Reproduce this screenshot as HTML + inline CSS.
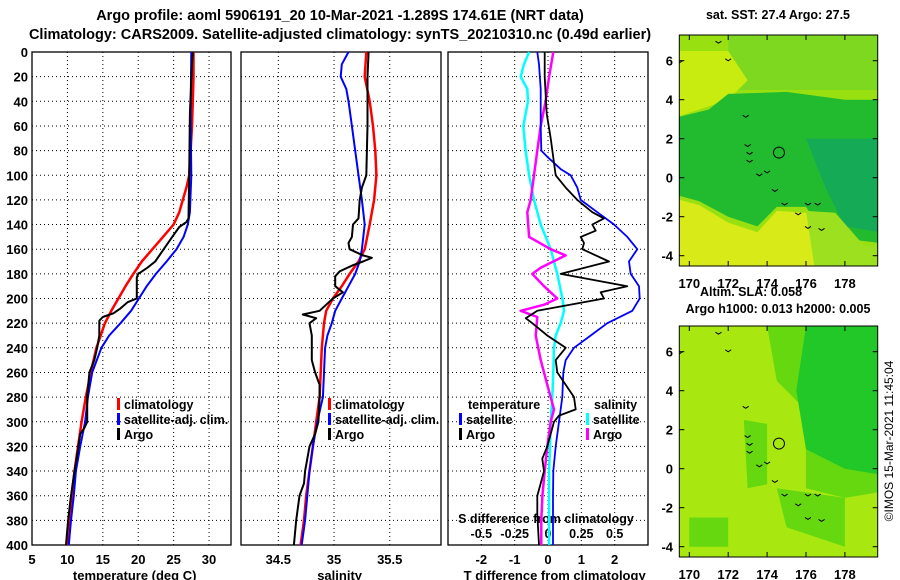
<!DOCTYPE html>
<html><head><meta charset="utf-8"><style>
body{margin:0;background:#fff}
svg{display:block;font-family:"Liberation Sans",sans-serif;font-weight:bold}
</style></head><body>
<svg id="c" width="900" height="580" viewBox="0 0 900 580">
<text x="340" y="20" text-anchor="middle" font-size="14.5">Argo profile: aoml 5906191_20 10-Mar-2021 -1.289S 174.61E (NRT data)</text>
<text x="340" y="39" text-anchor="middle" font-size="14.5">Climatology: CARS2009. Satellite-adjusted climatology: synTS_20210310.nc (0.49d earlier)</text>
<g id="maps"></g>
<g id="plots"></g>
<text transform="translate(893,441) rotate(-90)" text-anchor="middle" font-size="12" font-weight="normal">©IMOS 15-Mar-2021 11:45:04</text>
</svg>
<script>
const NS="http://www.w3.org/2000/svg";
const svg=document.getElementById('c');
function mk(tag,attrs,parent,txt){const e=document.createElementNS(NS,tag);for(const k in attrs)e.setAttribute(k,attrs[k]);if(txt!==undefined)e.textContent=txt;(parent||svg).appendChild(e);return e;}

// ---- data ----
const depthTicks=[0,20,40,60,80,100,120,140,160,180,200,220,240,260,280,300,320,340,360,380,400];
const tempTicks=[5,10,15,20,25,30];
const salTicks=[34.5,35,35.5];
const dTTicks=[-2,-1,0,1,2];
const dSTicks=[-0.5,-0.25,0,0.25,0.5];
const dSTickLabels=["-0.5","-0.25","0","0.25","0.5"];

const tClimDepth=[0,20,40,60,80,100,110,120,130,140,150,160,170,180,190,200,210,220,230,240,260,280,300,320,340,360,380,400];
const tClimVal=[27.8,27.8,27.7,27.6,27.4,27.2,26.8,26.3,25.8,25,23.5,22,20.5,19.3,18.2,17.2,16.2,15.3,14.7,14.1,13.3,12.6,12.0,11.5,11.0,10.6,10.3,10.0];
const tSatDepth=[0,50,100,130,140,150,160,170,180,190,200,210,220,230,240,260,280,300,320,340,360,380,400];
const tSatVal=[27.5,27.4,27.5,27.3,27.0,26.4,25.4,24,22.5,21.2,20.1,19,17.5,15.9,14.8,13.5,12.9,12.5,11.8,11.2,10.9,10.5,10.2];
const tArgoDepth=[0,10,50,100,135,138,142,150,160,170,175,180,183,200,203,208,212,215,218,230,240,250,260,280,300,305,310,330,340,360,380,400];
const tArgoVal=[27.7,27.6,27.3,27.2,27.1,26.8,25.8,24.8,23.6,22.4,21.3,20,19.8,19.8,18.5,17.5,16.5,15,14.5,14.5,14.2,13.8,13.1,12.8,12.8,12.4,11.8,11.3,11.0,10.5,10.1,9.8];

const sClimDepth=[0,20,40,60,80,100,120,140,160,170,180,190,200,210,220,240,260,280,300,320,340,360,380,400];
const sClimVal=[35.29,35.275,35.32,35.35,35.37,35.38,35.36,35.32,35.275,35.22,35.14,35.07,34.99,34.93,34.91,34.89,34.88,34.87,34.84,34.81,34.78,34.75,34.73,34.70];
const sSatDepth=[0,10,20,30,40,60,80,100,120,140,160,170,180,190,200,210,220,230,240,260,280,300,320,340,360,380,400];
const sSatVal=[35.13,35.07,35.06,35.11,35.13,35.16,35.19,35.22,35.25,35.275,35.25,35.23,35.19,35.13,35.07,35.01,34.98,34.94,34.92,34.91,34.90,34.85,34.81,34.78,34.76,34.74,34.71];
const sArgoDepth=[0,20,60,100,110,120,135,140,150,155,160,165,167,170,173,178,182,190,195,200,205,210,213,216,220,230,250,260,270,280,300,310,320,340,350,360,380,400];
const sArgoVal=[35.31,35.30,35.30,35.29,35.25,35.23,35.22,35.17,35.16,35.13,35.14,35.26,35.34,35.26,35.17,35.05,35.01,35.01,35.08,34.99,34.93,34.87,34.72,34.84,34.78,34.80,34.80,34.83,34.87,34.87,34.86,34.83,34.78,34.74,34.73,34.69,34.66,34.64];

const dTSatDepth=[0,10,30,60,80,85,95,100,110,120,130,140,150,160,170,180,190,200,210,220,230,240,250,260,280,300,320,340,360,380,400];
const dTSatVal=[-0.32,-0.27,-0.22,-0.22,-0.2,-0.02,0.38,0.68,0.88,0.98,1.48,1.98,2.38,2.68,2.43,2.48,2.73,2.75,2.53,1.78,1.28,0.78,0.53,0.46,0.43,0.33,0.23,0.16,0.15,0.15,0.15];
const dTArgoDepth=[0,20,50,70,90,100,110,120,130,135,140,145,150,155,160,170,180,190,195,200,210,216,220,230,240,250,260,270,280,290,295,300,320,330,340,350,360,375,400];
const dTArgoVal=[-0.1,-0.1,-0.04,0.08,0.18,0.23,0.53,0.88,1.33,1.68,1.33,1.43,0.98,1.08,1.03,1.83,0.38,2.38,1.58,1.68,-0.32,-0.67,-0.47,-0.02,0.53,0.23,0.28,0.53,0.78,0.83,0.33,0.18,-0.02,-0.17,-0.12,-0.22,-0.32,-0.32,-0.27];
const dSSatDepth=[0,10,20,30,40,60,80,100,120,140,160,180,200,210,220,230,240,260,280,300,320,340,360,400];
const dSSatVal=[-0.142,-0.18,-0.205,-0.155,-0.15,-0.185,-0.168,-0.142,-0.105,-0.055,0.02,0.07,0.108,0.12,0.095,0.058,0.045,0.04,0.032,0.02,0.015,0.008,0.008,0.008];
const dSArgoDepth=[0,20,40,60,80,100,120,130,150,160,165,175,180,190,200,205,210,215,230,250,270,290,300,320,340,360,380,400];
const dSArgoVal=[0.04,0.008,-0.018,-0.055,-0.08,-0.105,-0.13,-0.155,-0.142,0.02,0.132,-0.055,-0.118,-0.03,0.07,-0.03,-0.205,-0.08,-0.092,-0.055,-0.005,0.045,0.02,-0.005,-0.025,-0.042,-0.05,-0.05];

// ---- axes ----
const Y0=52,Y1=545;
const yD=d=>Y0+(d/400)*(Y1-Y0);
const panels=[
 {x0:32,x1:231,min:5,max:33.1},
 {x0:241,x1:441,min:34.165,max:35.96},
 {x0:448,x1:648,min:-3,max:3}
];
const xs=i=>v=>panels[i].x0+(v-panels[i].min)/(panels[i].max-panels[i].min)*(panels[i].x1-panels[i].x0);
const xT=xs(0),xS=xs(1),xDT=xs(2),xDS=v=>xDT(v*4);

const P=document.getElementById('plots');
panels.forEach((p,i)=>{
  const g=mk('g',{},P);
  
  
  depthTicks.forEach(d=>{
    const l=mk('line',{x1:p.x0,x2:p.x1,y1:yD(d),y2:yD(d),stroke:'#000','stroke-width':1,'stroke-dasharray':'1,3'},g);
    
    
  });
  const vt=i===0?tempTicks:i===1?salTicks:dTTicks;
  const f=i===0?xT:i===1?xS:xDT;
  vt.forEach(v=>{
    const l=mk('line',{x1:f(v),x2:f(v),y1:Y0,y2:Y1,stroke:'#000','stroke-width':1,'stroke-dasharray':'1,3'},g);
    
    
    const t=mk('text',{x:f(v),y:564,'text-anchor':'middle','font-size':13},g,String(v));
    
    
  });
  const r=mk('rect',{x:p.x0,y:Y0,width:p.x1-p.x0,height:Y1-Y0,fill:'none',stroke:'#000','stroke-width':1.3},g);
  
  
});
depthTicks.forEach(d=>{
  const t=mk('text',{x:28,y:yD(d)+5,'text-anchor':'end','font-size':13},P,String(d));
  
  
});
[[xT(19.5),'temperature (deg C)','temp-axis-title'],[xS(35.05),'salinity','salinity-axis-title'],[xDT(0.2),'T difference from climatology','t-diff-axis-title']].forEach(a=>{
  const t=mk('text',{x:a[0],y:580,'text-anchor':'middle','font-size':13},P,a[1]);
  
  
});
let st=mk('text',{x:546,y:523,'text-anchor':'middle','font-size':12.5},P,'S difference from climatology');


dSTicks.forEach((v,i)=>{
  const t=mk('text',{x:xDS(v),y:538,'text-anchor':'middle','font-size':12.5},P,dSTickLabels[i]);
  
  
});

function line(depths,vals,fx,color,w,name){
  const pts=depths.map((d,i)=>fx(vals[i]).toFixed(1)+','+yD(d).toFixed(1)).join(' ');
  const l=mk('polyline',{points:pts,fill:'none',stroke:color,'stroke-width':w,'stroke-linejoin':'round'},P);
  
  
}
line(tClimDepth,tClimVal,xT,'#f00',2.5,'temp-climatology-line');
line(tSatDepth,tSatVal,xT,'#00f',2,'temp-satellite-line');
line(tArgoDepth,tArgoVal,xT,'#000',2,'temp-argo-line');
line(sClimDepth,sClimVal,xS,'#f00',2.5,'salinity-climatology-line');
line(sSatDepth,sSatVal,xS,'#00f',2,'salinity-satellite-line');
line(sArgoDepth,sArgoVal,xS,'#000',2,'salinity-argo-line');
line(dSSatDepth,dSSatVal,xDS,'#0ff',2.5,'s-diff-satellite-line');
line(dSArgoDepth,dSArgoVal,xDS,'#f0f',2.5,'s-diff-argo-line');
line(dTSatDepth,dTSatVal,xDT,'#00f',1.8,'t-diff-satellite-line');
line(dTArgoDepth,dTArgoVal,xDT,'#000',1.8,'t-diff-argo-line');

function legend(x,y,color,label,name){
  const g=mk('g',{},P);
  
  
  if(color) mk('rect',{x:x,y:y-11,width:3,height:12,fill:color},g);
  mk('text',{x:x+7,y:y,'font-size':12.5},g,label);
}
legend(117,409,'#f00','climatology','legend-climatology');
legend(117,424,'#00f','satellite-adj. clim.','legend-satellite-adj');
legend(117,439,'#000','Argo','legend-argo');
legend(328,409,'#f00','climatology','legend-climatology-2');
legend(328,424,'#00f','satellite-adj. clim.','legend-satellite-adj-2');
legend(328,439,'#000','Argo','legend-argo-2');
legend(461,409,null,'temperature','legend-temperature-header');
legend(459,424,'#00f','satellite','legend-t-satellite');
legend(459,439,'#000','Argo','legend-t-argo');
legend(587,409,null,'salinity','legend-salinity-header');
legend(586,424,'#0ff','satellite','legend-s-satellite');
legend(586,439,'#f0f','Argo','legend-s-argo');

// ---- maps ----
const M=document.getElementById('maps');
const lonTicks=[170,172,174,176,178];
const latTicks=[6,4,2,0,-2,-4];
const MX0=679.3,MX1=877.7;
const mx=lon=>689.3+(lon-170)*19.45;
function drawMap(top,name,shapes){
  const my=lat=>top+25.7+(6-lat)*19.5;
  const g=mk('g',{},M);
  
  
  const cid='clip'+top;
  const cp=mk('clipPath',{id:cid},g);
  mk('rect',{x:MX0,y:top,width:MX1-MX0,height:231},cp);
  const inner=mk('g',{'clip-path':'url(#'+cid+')'},g);
  shapes.forEach(s=>{
    const pts=s.p.map(q=>mx(q[0]).toFixed(1)+','+my(q[1]).toFixed(1)).join(' ');
    mk('polygon',{points:pts,fill:s.c},inner);
  });
  const isl=[[172.9,3.2],[173,1.7],[173.1,1.3],[173.1,0.9],[173.6,0.2],[174,0.35],[174.4,-0.6],[174.9,-1.3],[175.6,-1.8],[176.1,-1.3],[176.6,-1.3],[176.1,-2.5],[176.8,-2.6],[171.5,7.0],[172,6.1],[169.5,6.0]];
  isl.forEach(q=>mk('path',{d:'M'+(mx(q[0])-3)+','+my(q[1])+' l3,2 l3,-2',fill:'none',stroke:'#000','stroke-width':1},inner));
  const c=mk('circle',{cx:mx(174.61),cy:my(1.289),r:5.5,fill:'none',stroke:'#000','stroke-width':1},g);
  
  
  mk('rect',{x:MX0,y:top,width:MX1-MX0,height:231,fill:'none',stroke:'#000','stroke-width':1},g);
  latTicks.forEach(l=>{
    mk('line',{x1:MX0,x2:MX0+5,y1:my(l),y2:my(l),stroke:'#000'},g);
    mk('line',{x1:MX1,x2:MX1-5,y1:my(l),y2:my(l),stroke:'#000'},g);
    const t=mk('text',{x:673,y:my(l)+5,'text-anchor':'end','font-size':13},g,String(l));
    
    
  });
  lonTicks.forEach(l=>{
    mk('line',{x1:mx(l),x2:mx(l),y1:top,y2:top+5,stroke:'#000'},g);
    mk('line',{x1:mx(l),x2:mx(l),y1:top+231,y2:top+226,stroke:'#000'},g);
    const t=mk('text',{x:mx(l),y:top+253,'text-anchor':'middle','font-size':13},g,String(l));
    
    
  });
}
drawMap(35,'sst-map',[
 {c:'#99e010',p:[[169,8],[181,8],[181,-5],[169,-5]]},
 {c:'#7fd820',p:[[172,8],[181,8],[181,4.5],[172,4.5]]},
 {c:'#c8ec10',p:[[169,6.5],[172,6.5],[173,5],[172,4],[169,3]]},
 {c:'#22bb30',p:[[169,3],[171,3.5],[172,4.3],[175,4.4],[178,4],[181,4],[181,-3.5],[177,-3],[176,-1.5],[174.5,-1.5],[173.5,-2.5],[172,-2],[170.5,-1.2],[169,-0.8]]},
 {c:'#15aa55',p:[[176,2],[181,2],[181,-3],[178,-2.5],[177,-0.5]]},
 {c:'#d8ea18',p:[[169,-1],[170.5,-1.4],[172,-2.3],[173.5,-2.8],[174.5,-1.7],[176,-1.8],[177,-3],[176.5,-5],[169,-5]]},
 {c:'#9de020',p:[[176,-1.7],[177.5,-1.8],[179,-3.5],[181,-3.6],[181,-5],[176.5,-5]]}
]);
drawMap(326,'sla-map',[
 {c:'#a8e810',p:[[169,8],[181,8],[181,-5],[169,-5]]},
 {c:'#66d810',p:[[171,7.3],[174,7.3],[174.5,4.5],[176,3],[176,-1],[178,-1.5],[181,-1],[181,8]]},
 {c:'#22c828',p:[[176,7.3],[181,7.3],[181,-0.5],[178,0],[176,1],[175.5,4]]},
 {c:'#66d810',p:[[172.8,2.5],[174,2.3],[174,-0.8],[173,-1]]},
 {c:'#66d810',p:[[170,-2.5],[172,-2.5],[172,-4],[170,-4]]},
 {c:'#66d810',p:[[174.5,-1],[178,-1.5],[178,-4],[175,-3]]}
]);
[[778,19,'sat. SST: 27.4 Argo: 27.5','sst-map-title'],[751,296,'Altim. SLA: 0.058','sla-map-title'],[778,313,'Argo h1000: 0.013 h2000: 0.005','sla-map-subtitle']].forEach(a=>{
  const t=mk('text',{x:a[0],y:a[1],'text-anchor':'middle','font-size':12.5},M,a[2]);
  
  
});
</script>
</body></html>
